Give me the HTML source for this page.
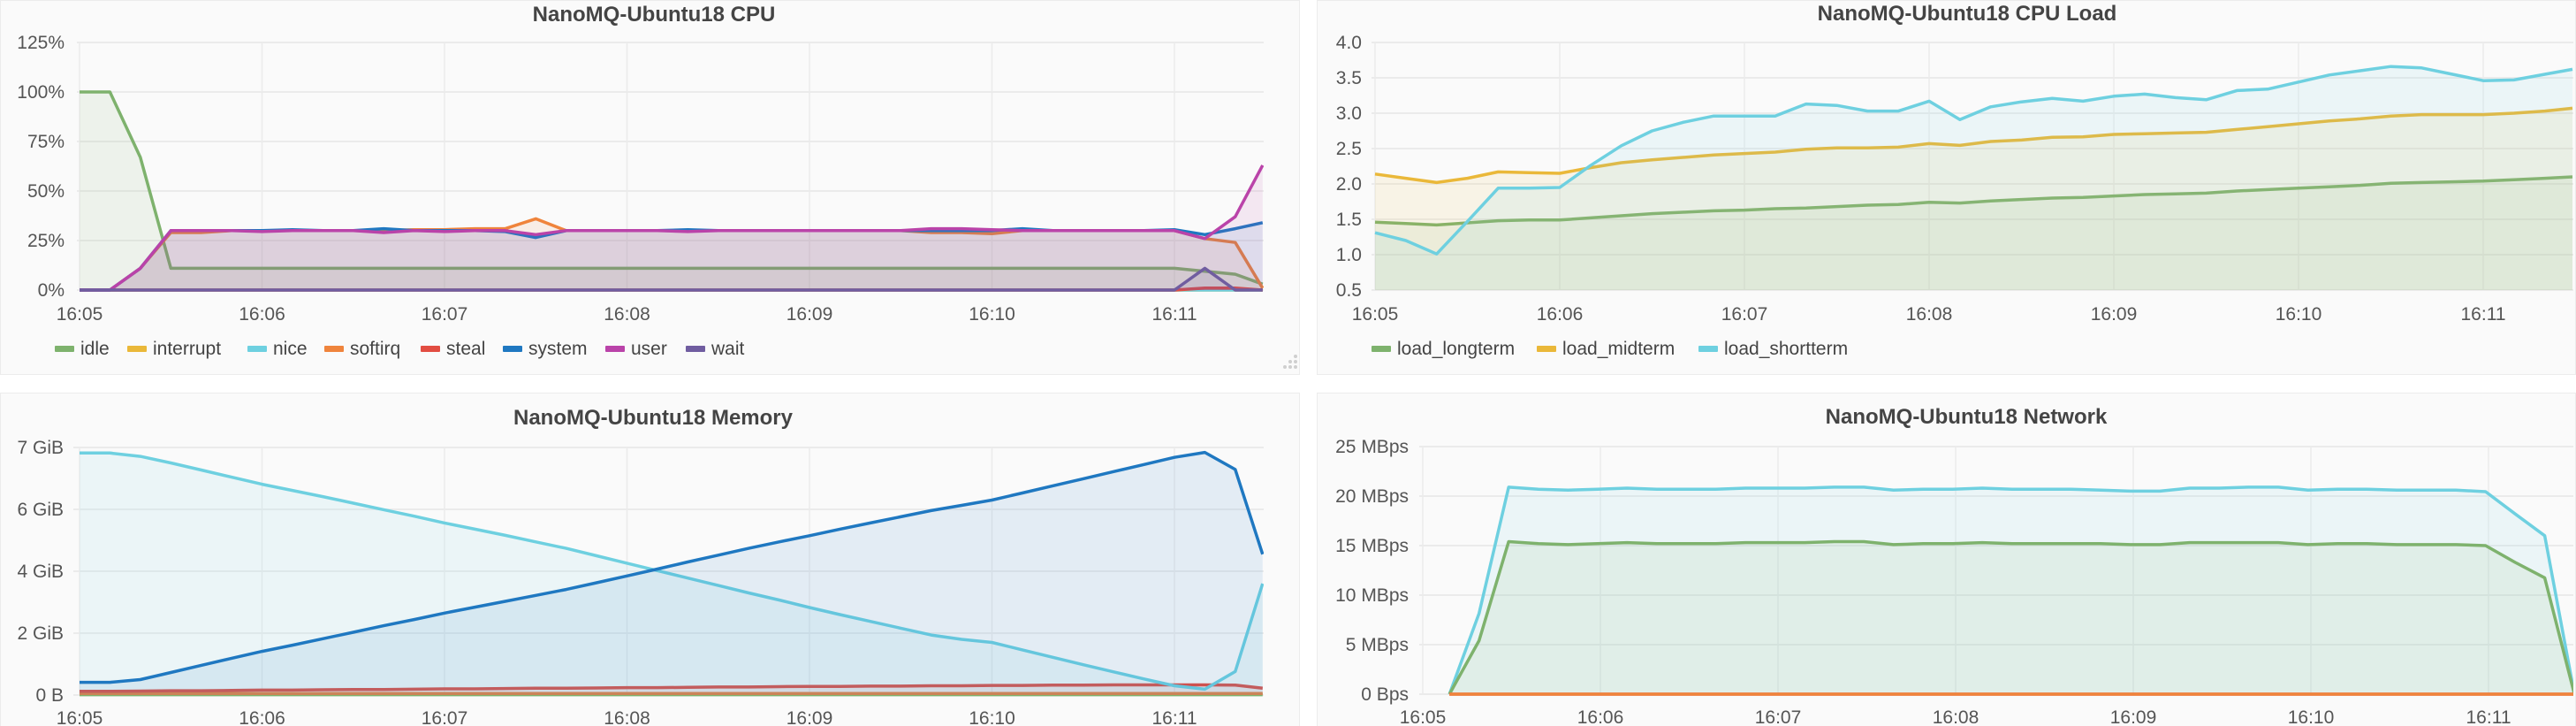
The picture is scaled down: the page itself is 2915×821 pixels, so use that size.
<!DOCTYPE html>
<html><head><meta charset="utf-8">
<style>
html,body{margin:0;padding:0;background:#fff;}
svg{display:block;font-family:"Liberation Sans","DejaVu Sans",sans-serif;}
.tick{fill:#555;font-size:21px;}
.title{fill:#444;font-size:24px;font-weight:bold;}
.leg{fill:#444;font-size:21px;}
</style></head>
<body>
<svg id="dash" width="2915" height="821" viewBox="0 0 2915 821" xmlns="http://www.w3.org/2000/svg"></svg>
<script>
// ---- shared time labels ----
const timeTickSecs = [0, 60, 120, 180, 240, 300, 360];
const timeTickLabels = ["16:05","16:06","16:07","16:08","16:09","16:10","16:11"];

// ---- CPU panel data (percent) ----
const cpuTimes = [0,10,20,30,40,50,60,70,80,90,100,110,120,130,140,150,160,170,180,190,200,210,220,230,240,250,260,270,280,290,300,310,320,330,340,350,360,370,380,389];
const cpuIdle = [100,100,67,11,11,11,11,11,11,11, 11,11,11,11,11,11,11,11,11,11, 11,11,11,11,11,11,11,11,11,11, 11,11,11,11,11,11,11,9.5,8,3];
const cpuInterrupt = [0,0,0,0,0,0,0,0,0,0, 0,0,0,0,0,0,0,0,0,0, 0,0,0,0,0,0,0,0,0,0, 0,0,0,0,0,0,0,0,0,0];
const cpuNice = [0,0,0,0,0,0,0,0,0,0, 0,0,0,0,0,0,0,0,0,0, 0,0,0,0,0,0,0,0,0,0, 0,0,0,0,0,0,0,0,0,0];
const cpuSoftirq = [0,0,11,29,29,30,30,30,30,30, 30,30.5,30.5,31,31,36,30,30,30,30, 30,30,30,30,30,30,30,30,29,29, 28.5,30,30,30,30,30,30,26,24,1];
const cpuSteal = [0,0,0,0,0,0,0,0,0,0, 0,0,0,0,0,0,0,0,0,0, 0,0,0,0,0,0,0,0,0,0, 0,0,0,0,0,0,0,1,1,0];
const cpuSystem = [0,0,11,30,30,30,30,30.5,30,30, 31,30,30,30,29.5,26.5,30,30,30,30, 30.5,30,30,30,30,30,30,30,30,30, 30,31,30,30,30,30,30.5,28,31,34];
const cpuUser = [0,0,11,30,30,30,29.5,30,30,30, 29,30,29.5,30,30,28,30,30,30,30, 29.5,30,30,30,30,30,30,30,31,31, 30.5,30,30,30,30,30,30,26,37,63];
const cpuWait = [0,0,0,0,0,0,0,0,0,0, 0,0,0,0,0,0,0,0,0,0, 0,0,0,0,0,0,0,0,0,0, 0,0,0,0,0,0,0,11,0,0];
const cpuYTicks = [0,25,50,75,100,125];
const cpuYLabels = ["0%","25%","50%","75%","100%","125%"];

// ---- CPU Load data ----
const loadTimes = cpuTimes;
const loadLong = [1.46,1.44,1.42,1.45,1.48,1.49,1.49,1.52,1.55,1.58, 1.60,1.62,1.63,1.65,1.66,1.68,1.70,1.71,1.74,1.73, 1.76,1.78,1.80,1.81,1.83,1.85,1.86,1.87,1.90,1.92, 1.94,1.96,1.98,2.01,2.02,2.03,2.04,2.06,2.08,2.10];
const loadMid = [2.14,2.08,2.02,2.08,2.17,2.16,2.15,2.23,2.30,2.34, 2.375,2.41,2.43,2.45,2.49,2.51,2.51,2.52,2.57,2.545, 2.60,2.62,2.66,2.665,2.70,2.71,2.72,2.73,2.77,2.81, 2.85,2.89,2.92,2.96,2.98,2.98,2.98,3.0,3.03,3.07];
const loadShort = [1.31,1.20,1.01,1.47,1.94,1.94,1.95,2.26,2.54,2.75, 2.87,2.96,2.96,2.96,3.13,3.11,3.03,3.03,3.17,2.91, 3.09,3.16,3.21,3.17,3.24,3.27,3.22,3.19,3.32,3.34, 3.44,3.54,3.60,3.66,3.64,3.55,3.46,3.47,3.55,3.62];
const loadYTicks = [0.5,1.0,1.5,2.0,2.5,3.0,3.5,4.0];
const loadYLabels = ["0.5","1.0","1.5","2.0","2.5","3.0","3.5","4.0"];

// ---- Memory data (units of 1e9 bytes) ----
const memTimes = cpuTimes;
const memFree = [7.82,7.82,7.71,7.5,7.27,7.04,6.81,6.61,6.41,6.2, 5.99,5.78,5.56,5.36,5.16,4.95,4.74,4.5,4.26,4.02, 3.78,3.54,3.3,3.07,2.83,2.6,2.38,2.16,1.94,1.8, 1.7,1.46,1.22,0.98,0.75,0.52,0.3,0.19,0.76,3.6];
const memUsed = [0.41,0.41,0.5,0.73,0.96,1.19,1.41,1.61,1.82,2.03, 2.24,2.44,2.65,2.84,3.03,3.22,3.41,3.63,3.85,4.07, 4.3,4.52,4.74,4.95,5.15,5.36,5.56,5.76,5.96,6.13, 6.3,6.53,6.76,6.99,7.22,7.45,7.68,7.84,7.29,4.55];
const memBuffered = [0.12,0.12,0.13,0.14,0.14,0.15,0.16,0.16,0.17,0.18, 0.18,0.19,0.2,0.2,0.21,0.22,0.22,0.23,0.24,0.24, 0.25,0.26,0.26,0.27,0.28,0.28,0.29,0.29,0.3,0.3, 0.31,0.31,0.32,0.32,0.33,0.33,0.33,0.33,0.32,0.22];
const memCached = [0.05,0.05,0.05,0.05,0.05,0.05,0.05,0.05,0.05,0.05, 0.05,0.05,0.05,0.05,0.05,0.05,0.05,0.05,0.05,0.05, 0.05,0.05,0.05,0.05,0.05,0.05,0.05,0.05,0.05,0.05, 0.05,0.05,0.05,0.05,0.05,0.05,0.05,0.05,0.05,0.05];
const memSlab = [0.01,0.01,0.01,0.01,0.01,0.01,0.01,0.01,0.01,0.01, 0.01,0.01,0.01,0.01,0.01,0.01,0.01,0.01,0.01,0.01, 0.01,0.01,0.01,0.01,0.01,0.01,0.01,0.01,0.01,0.01, 0.01,0.01,0.01,0.01,0.01,0.01,0.01,0.01,0.01,0.01];
const memYTicks = [0,2,4,6,8];
const memYLabels = ["0 B","2 GiB","4 GiB","6 GiB","7 GiB"];

// ---- Network data (MBps) ----
const netTimes = [9,19,29,39,49,59,69,79,89,99,109,119,129,139,149,159,169,179,189,199,209,219,229,239,249,259,269,279,289,299,309,319,329,339,349,359,369,379,389];
const netRx = [0,8.15,20.9,20.7,20.6,20.7,20.8,20.7,20.7,20.7, 20.8,20.8,20.8,20.9,20.9,20.6,20.7,20.7,20.8,20.7, 20.7,20.7,20.6,20.5,20.5,20.8,20.8,20.9,20.9,20.6, 20.7,20.7,20.6,20.6,20.6,20.45,18.2,16.0,0];
const netTx = [0,5.4,15.4,15.2,15.1,15.2,15.3,15.2,15.2,15.2, 15.3,15.3,15.3,15.4,15.4,15.1,15.2,15.2,15.3,15.2, 15.2,15.2,15.2,15.1,15.1,15.3,15.3,15.3,15.3,15.1, 15.2,15.2,15.1,15.1,15.1,15.0,13.3,11.75,0];
const netErr = [0,0,0,0,0,0,0,0,0,0, 0,0,0,0,0,0,0,0,0,0, 0,0,0,0,0,0,0,0,0,0, 0,0,0,0,0,0,0,0,0];
const netDrop = [0,0,0,0,0,0,0,0,0,0, 0,0,0,0,0,0,0,0,0,0, 0,0,0,0,0,0,0,0,0,0, 0,0,0,0,0,0,0,0,0];
const netYTicks = [0,5,10,15,20,25];
const netYLabels = ["0 Bps","5 MBps","10 MBps","15 MBps","20 MBps","25 MBps"];

const NS = "http://www.w3.org/2000/svg";
const svg = document.getElementById('dash');
function mk(tag, attrs, parent){
  const e = document.createElementNS(NS, tag);
  for (const k in attrs) e.setAttribute(k, attrs[k]);
  (parent||svg).appendChild(e);
  return e;
}

// panel backgrounds
const panels = [
  {name:'cpu-panel', x:0, y:0, w:1471, h:424},
  {name:'cpu-load-panel', x:1490, y:0, w:1425, h:424},
  {name:'memory-panel', x:0, y:444, w:1471, h:400},
  {name:'network-panel', x:1490, y:444, w:1425, h:400}
];
panels.forEach(p=>{
  const r = mk('rect',{x:p.x+0.5,y:p.y+0.5,width:p.w-1,height:p.h-1,fill:'#fafafa',stroke:'#ececec'});
  
  
});

function drawChart(c){
  const g = mk('g',{});
  
  
  const xs = t => c.x0 + t/60*c.ppm;
  const ys = v => c.yBase - (v - c.vMin)*c.ppu;
  // title
  const tt = mk('text',{x:c.titleX,y:c.titleY,'text-anchor':'middle',class:'title'},g);
  tt.textContent = c.title;
  
  
  const top = ys(c.yTicks[c.yTicks.length-1]);
  const bot = ys(c.yTicks[0]);
  // grid
  c.yTicks.forEach((v,i)=>{
    const y = ys(v);
    const l = mk('line',{x1:c.gl,x2:c.gr,y1:y,y2:y,stroke:'#ebebeb','stroke-width':2},g);
    
    
    const t = mk('text',{x:c.labelR,y:y+7,'text-anchor':'end',class:'tick'},g);
    t.textContent = c.yLabels[i];
    
    
  });
  timeTickSecs.forEach((s,i)=>{
    const x = xs(s);
    const l = mk('line',{x1:x,x2:x,y1:top,y2:bot,stroke:'#ebebeb','stroke-width':1.5},g);
    
    
    const t = mk('text',{x:x,y:c.xLabelY,'text-anchor':'middle',class:'tick'},g);
    t.textContent = timeTickLabels[i];
    
    
  });
  // clip
  const cid = 'clip-'+c.name;
  const cp = mk('clipPath',{id:cid},g);
  mk('rect',{x:c.gl,y:top-10,width:c.gr-c.gl,height:bot-top+12},cp);
  const sg = mk('g',{'clip-path':'url(#'+cid+')'},g);
  c.series.forEach(s=>{
    const pts = s.vals.map((v,i)=>[xs(c.times[i]), ys(v)]);
    const line = pts.map((p,i)=>(i?'L':'M')+p[0].toFixed(1)+','+p[1].toFixed(1)).join(' ');
    const area = line + ' L'+pts[pts.length-1][0].toFixed(1)+','+bot+' L'+pts[0][0].toFixed(1)+','+bot+' Z';
    const a = mk('path',{d:area,fill:s.color,'fill-opacity':0.1,stroke:'none'},sg);
    
    
    const l = mk('path',{d:line,fill:'none',stroke:s.color,'stroke-width':3.5,'stroke-linejoin':'round'},sg);
    
    
  });
  // legend
  if (c.legend){
    c.series.forEach((s,i)=>{
      const lx = c.legend[i];
      const lg = mk('g',{},g);
      
      
      mk('rect',{x:lx,y:c.legendY-3,width:22,height:7,fill:s.color,rx:1},lg);
      const t = mk('text',{x:lx+29,y:c.legendY+7,class:'leg'},lg);
      t.textContent = s.label;
    });
  }
}

drawChart({name:'cpu-chart', title:'NanoMQ-Ubuntu18 CPU', titleX:740, titleY:24,
  x0:90, ppm:206.5, yBase:328, vMin:0, ppu:2.24, gl:87, gr:1430, labelR:73, xLabelY:362,
  yTicks:cpuYTicks, yLabels:cpuYLabels, times:cpuTimes, legendY:394,
  legend:[62,144,280,367,476,569,685,776],
  series:[
    {key:'idle',label:'idle',color:'#7eb26d',vals:cpuIdle},
    {key:'interrupt',label:'interrupt',color:'#eab839',vals:cpuInterrupt},
    {key:'nice',label:'nice',color:'#6ed0e0',vals:cpuNice},
    {key:'softirq',label:'softirq',color:'#ef843c',vals:cpuSoftirq},
    {key:'steal',label:'steal',color:'#e24d42',vals:cpuSteal},
    {key:'system',label:'system',color:'#1f78c1',vals:cpuSystem},
    {key:'user',label:'user',color:'#ba43a9',vals:cpuUser},
    {key:'wait',label:'wait',color:'#705da0',vals:cpuWait}
  ]});

drawChart({name:'cpu-load-chart', title:'NanoMQ-Ubuntu18 CPU Load', titleX:2226, titleY:23,
  x0:1556, ppm:209, yBase:328, vMin:0.5, ppu:80, gl:1552, gr:2912, labelR:1541, xLabelY:362,
  yTicks:loadYTicks, yLabels:loadYLabels, times:loadTimes, legendY:394,
  legend:[1552,1739,1922],
  series:[
    {key:'load-longterm',label:'load_longterm',color:'#7eb26d',vals:loadLong},
    {key:'load-midterm',label:'load_midterm',color:'#eab839',vals:loadMid},
    {key:'load-shortterm',label:'load_shortterm',color:'#6ed0e0',vals:loadShort}
  ]});

drawChart({name:'memory-chart', title:'NanoMQ-Ubuntu18 Memory', titleX:739, titleY:480,
  x0:90, ppm:206.5, yBase:786, vMin:0, ppu:35, gl:83, gr:1430, labelR:72, xLabelY:819,
  yTicks:memYTicks, yLabels:memYLabels, times:memTimes,
  series:[
    {key:'mem-slab',label:'slab',color:'#7eb26d',vals:memSlab},
    {key:'mem-cached',label:'cached',color:'#ef843c',vals:memCached},
    {key:'mem-buffered',label:'buffered',color:'#e24d42',vals:memBuffered},
    {key:'mem-free',label:'free',color:'#6ed0e0',vals:memFree},
    {key:'mem-used',label:'used',color:'#1f78c1',vals:memUsed}
  ]});

drawChart({name:'network-chart', title:'NanoMQ-Ubuntu18 Network', titleX:2225, titleY:479,
  x0:1610, ppm:201, yBase:785, vMin:0, ppu:11.2, gl:1606, gr:2912, labelR:1594, xLabelY:818,
  yTicks:netYTicks, yLabels:netYLabels, times:netTimes,
  series:[
    {key:'net-rx',label:'rx',color:'#6ed0e0',vals:netRx},
    {key:'net-tx',label:'tx',color:'#7eb26d',vals:netTx},
    {key:'net-drop',label:'drop',color:'#e24d42',vals:netDrop},
    {key:'net-err',label:'err',color:'#ef843c',vals:netErr}
  ]});

// resize handle dots on CPU panel
[[1466,415],[1460,415],[1454,415],[1466,409],[1460,409],[1466,403]].forEach(p=>{
  const d = mk('circle',{cx:p[0],cy:p[1],r:2,fill:'#cfcfcf'});
  
  
});
</script>
</body></html>
